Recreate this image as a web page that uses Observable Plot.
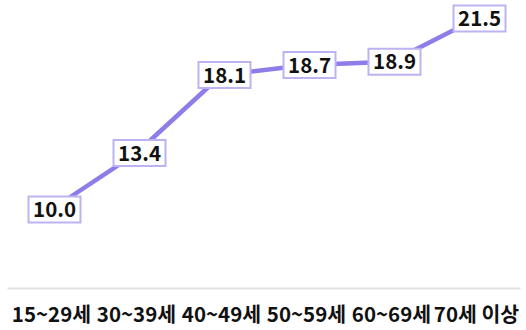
<!DOCTYPE html>
<html>
<head>
<meta charset="utf-8">
<script src="https://cdn.jsdelivr.net/npm/d3@7"></script>
<script src="https://cdn.jsdelivr.net/npm/@observablehq/plot@0.6"></script>
<style>
  html, body { margin: 0; padding: 0; background: #fff; }
  #chart { width: 526px; height: 330px; }
</style>
</head>
<body>
<div id="chart"></div>
<script>
const ageGroups = ["15~29세", "30~39세", "40~49세", "50~59세", "60~69세", "70세 이상"];
const rates = [10.0, 13.4, 18.1, 18.7, 18.9, 21.5];

const data = ageGroups.map((g, i) => ({ group: g, value: rates[i] }));

const boxW = 52, boxH = 26;
const boxSymbol = {
  draw(context) {
    context.moveTo(-boxW / 2, -boxH / 2);
    context.lineTo(boxW / 2, -boxH / 2);
    context.lineTo(boxW / 2, boxH / 2);
    context.lineTo(-boxW / 2, boxH / 2);
    context.closePath();
  }
};

const font = "'Noto Sans CJK KR', 'Noto Sans', sans-serif";

const chart = Plot.plot({
  width: 526,
  height: 330,
  marginLeft: 8,
  marginRight: 7,
  marginTop: 0,
  marginBottom: 42,
  style: { fontFamily: font, background: "#fff", color: "#111", overflow: "visible" },
  x: { type: "point", domain: ageGroups, padding: 0.5, label: null },
  y: { domain: [10, 21.5], range: [209, 18], axis: null },
  marks: [
    Plot.frame({ anchor: "bottom", stroke: "#e2e2e2", strokeWidth: 2 }),
    Plot.axisX({ tickSize: 0, tickPadding: 19, fontSize: 20.5, fontWeight: "bold", fill: "#111", label: null }),
    Plot.line(data, { x: "group", y: "value", stroke: "#8e7ce8", strokeWidth: 4.5 }),
    Plot.dot(data, { x: "group", y: "value", symbol: boxSymbol, r: 10, fill: "#fff", stroke: "#bdb3f3", strokeWidth: 2, dx: 3 }),
    Plot.text(data, { x: "group", y: "value", text: d => d.value.toFixed(1), fontSize: 20.5, fontWeight: "bold", fill: "#111", dx: 3, dy: 1 })
  ]
});
document.getElementById("chart").appendChild(chart);
</script>
</body>
</html>
